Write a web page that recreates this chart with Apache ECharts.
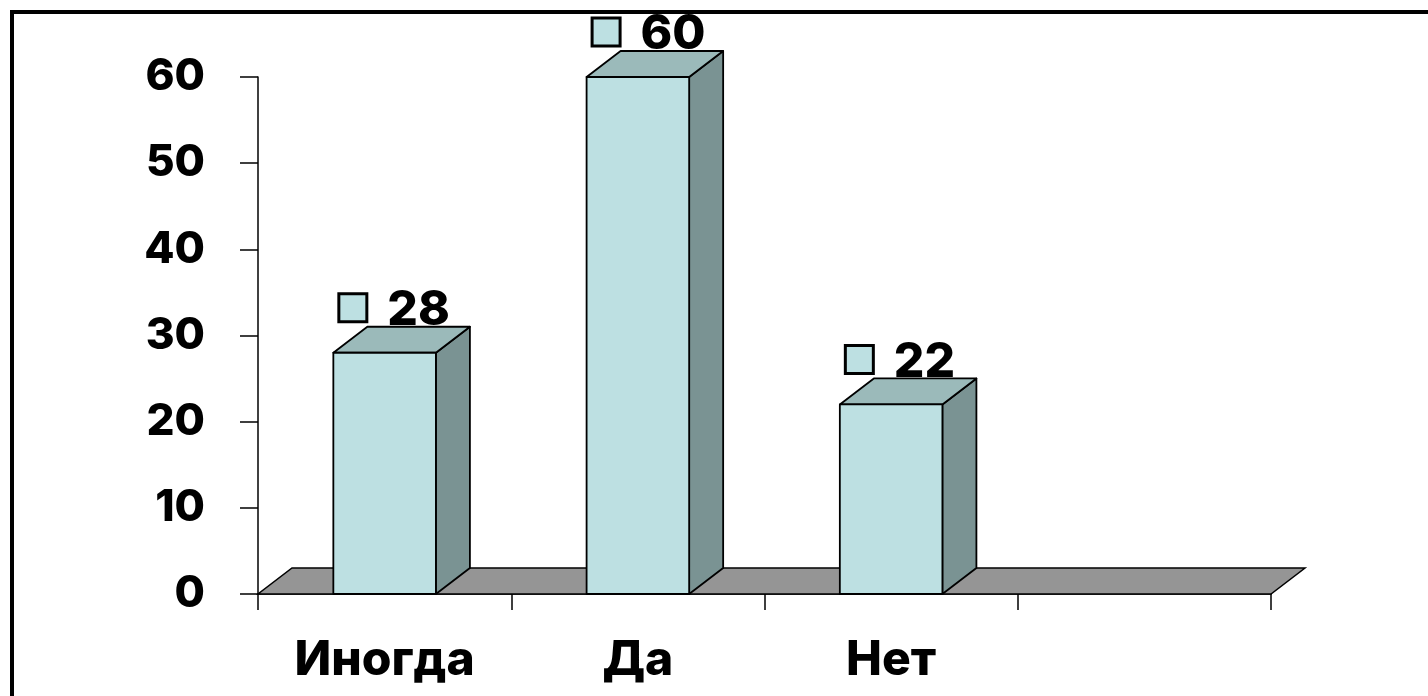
<!DOCTYPE html>
<html>
<head>
<meta charset="utf-8">
<script src="https://cdn.jsdelivr.net/npm/echarts@6/dist/echarts.min.js"></script>
<style>
  html, body { margin: 0; padding: 0; background: #ffffff; }
  #chart { width: 1428px; height: 696px; }
</style>
</head>
<body>
<div id="chart"></div>
<script>
// Survey answers: share of respondents per answer
const categories = ['Иногда', 'Да', 'Нет', ''];
const values = [28, 60, 22];
const yTicks = { min: 0, max: 60, interval: 10 };

// 3D look: oblique offset of the back faces
const DEPTH_X = 34;
const DEPTH_Y = -26;
const FONT = 'Inter, "Noto Sans", "DejaVu Sans", sans-serif';
const WEIGHT = 800;

const COLOR_FRONT = '#bde0e2';
const COLOR_SIDE = '#7a9393';
const COLOR_TOP = '#9bbaba';
const COLOR_FLOOR = '#959595';

const chart = echarts.init(document.getElementById('chart'), null, { renderer: 'canvas' });

function renderFloor(params, api) {
  const cs = params.coordSys;
  const y0 = api.coord([0, 0])[1];
  const xl = cs.x, xr = cs.x + cs.width;
  return {
    type: 'polygon',
    shape: { points: [[xl, y0], [xr, y0], [xr + DEPTH_X, y0 + DEPTH_Y], [xl + DEPTH_X, y0 + DEPTH_Y]] },
    style: { fill: COLOR_FLOOR, stroke: '#000', lineWidth: 1.5 }
  };
}

function renderBar(params, api) {
  const idx = api.value(0);
  const v = api.value(1);
  const base = api.coord([idx, 0]);
  const top = api.coord([idx, v]);
  const bw = api.size([1, 0])[0] * 0.405;
  const xl = base[0] - bw / 2;
  const xr = base[0] + bw / 2;
  const yb = base[1];
  const yt = top[1];
  const line = { stroke: '#000', lineWidth: 1.8, lineJoin: 'round' };
  const backTop = yt + DEPTH_Y;
  return {
    type: 'group',
    children: [
      {
        type: 'polygon',
        shape: { points: [[xr, yb], [xr + DEPTH_X, yb + DEPTH_Y], [xr + DEPTH_X, yt + DEPTH_Y], [xr, yt]] },
        style: Object.assign({ fill: COLOR_SIDE }, line)
      },
      {
        type: 'polygon',
        shape: { points: [[xl, yt], [xr, yt], [xr + DEPTH_X, yt + DEPTH_Y], [xl + DEPTH_X, yt + DEPTH_Y]] },
        style: Object.assign({ fill: COLOR_TOP }, line)
      },
      {
        type: 'rect',
        shape: { x: xl, y: yt, width: bw, height: yb - yt },
        style: Object.assign({ fill: COLOR_FRONT }, line)
      },
      {
        type: 'rect',
        shape: { x: xl + 5.5, y: backTop - 33, width: 28, height: 28 },
        style: { fill: COLOR_FRONT, stroke: '#000', lineWidth: 3 }
      },
      {
        type: 'text',
        x: xl + 54,
        y: backTop - 16,
        style: {
          text: String(v),
          fill: '#000',
          font: WEIGHT + ' 48px ' + FONT,
          align: 'left',
          verticalAlign: 'middle'
        }
      }
    ]
  };
}

chart.setOption({
  animation: false,
  backgroundColor: '#ffffff',
  grid: { left: 258, right: 157, top: 77, bottom: 102, containLabel: false },
  graphic: [{
    type: 'rect',
    shape: { x: 12, y: 12, width: 1500, height: 800 },
    style: { fill: 'none', stroke: '#000', lineWidth: 4 },
    z: 100
  }],
  xAxis: {
    type: 'category',
    data: categories,
    boundaryGap: true,
    axisLine: { show: true, lineStyle: { color: '#000', width: 1.5 } },
    axisTick: { show: true, length: 16, alignWithLabel: false, lineStyle: { color: '#000', width: 1.5 } },
    axisLabel: { color: '#000', fontFamily: FONT, fontWeight: WEIGHT, fontSize: 48, margin: 43 },
    splitLine: { show: false }
  },
  yAxis: {
    type: 'value',
    min: yTicks.min,
    max: yTicks.max,
    interval: yTicks.interval,
    axisLine: { show: true, lineStyle: { color: '#000', width: 1.5 } },
    axisTick: { show: true, length: 18, lineStyle: { color: '#000', width: 1.5 } },
    axisLabel: { color: '#000', fontFamily: FONT, fontWeight: WEIGHT, fontSize: 44, margin: 53 },
    splitLine: { show: false }
  },
  series: [
    {
      type: 'custom',
      renderItem: renderFloor,
      data: [[0]],
      z: 1,
      silent: true
    },
    {
      type: 'custom',
      renderItem: renderBar,
      data: values.map((v, i) => [i, v]),
      encode: { x: 0, y: 1 },
      z: 2,
      silent: true
    }
  ]
});
</script>
</body>
</html>
